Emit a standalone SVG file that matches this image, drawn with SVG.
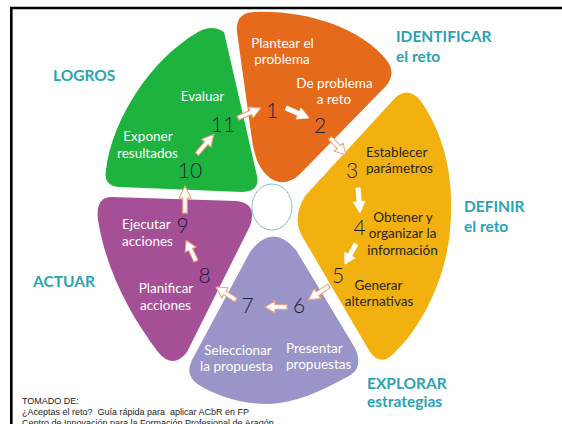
<svg xmlns="http://www.w3.org/2000/svg" width="562" height="424" viewBox="0 0 562 424">
<style>
.lbl{font-family:Lato,"Open Sans","Liberation Sans",sans-serif;font-size:13.5px;fill:#ffffff}
.dk{fill:#262626}
.num{font-family:Lato,"Open Sans","Liberation Sans",sans-serif;font-size:21px;font-weight:300;fill:#1c1c35}
.hd{font-family:Lato,"Open Sans","Liberation Sans",sans-serif;font-size:15.5px;font-weight:bold;fill:#2aa3b3}
.foot{font-family:"Liberation Sans",Arial,sans-serif;font-size:9px;fill:#222}
.arr{fill:#ffffff;stroke:#f2a07c;stroke-width:1;stroke-linejoin:round}
.arrw{fill:#ffffff;stroke:#ffffff;stroke-width:0.6;stroke-linejoin:round}
</style>
<defs>
<path id="ar" d="M0,-2.2 L11,-2.2 L11,-6 L20,0 L11,6 L11,2.2 L0,2.2 Z"/>
</defs>
<rect width="562" height="424" fill="#ffffff"/>
<line x1="10" y1="8" x2="562" y2="8" stroke="#000" stroke-width="2.6"/>
<line x1="11.3" y1="7" x2="11.3" y2="424" stroke="#000" stroke-width="2.6"/>

<g id="logros">
<path d="M224,32 L257,176 Q260,192 242,192 L120,187 Q103,186 106,170 C112,120 150,60 198,32 Q212,24 224,32 Z" fill="#1db33e"/>
<text class="lbl" x="202.5" y="101" text-anchor="middle">Evaluar</text>
<text class="lbl" x="148" y="141" text-anchor="middle">Exponer</text>
<text class="lbl" x="147.5" y="158" text-anchor="middle">resultados</text>
<text class="num" x="223" y="132" text-anchor="middle">11</text>
<text class="num" x="190" y="178" text-anchor="middle">10</text>
</g>

<g id="identificar">
<path d="M237,32 Q235,12 256,12 C300,10 360,25 388,62 Q396,74 386,86 L300,174 Q285,188 270,178 Q256,168 252,140 L237,32 Z" fill="#e56a1b"/>
<text class="lbl" x="282.5" y="48" text-anchor="middle">Plantear el</text>
<text class="lbl" x="282" y="64" text-anchor="middle">problema</text>
<text class="lbl" x="334.5" y="88" text-anchor="middle">De problema</text>
<text class="lbl" x="334" y="104" text-anchor="middle">a reto</text>
<text class="num" x="272" y="118" text-anchor="middle">1</text>
<text class="num" x="320" y="133" text-anchor="middle">2</text>
</g>

<g id="definir">
<path d="M395,98 Q408,86 420,100 C445,135 455,180 450,230 C446,280 420,330 392,355 Q380,366 370,352 L302,236 Q292,218 305,196 L395,98 Z" fill="#f2b10f"/>
<text class="lbl dk" x="366" y="157">Establecer</text>
<text class="lbl dk" x="366" y="173">parámetros</text>
<text class="lbl dk" x="403" y="222" text-anchor="middle">Obtener y</text>
<text class="lbl dk" x="402.5" y="238" text-anchor="middle">organizar la</text>
<text class="lbl dk" x="402.5" y="255" text-anchor="middle">información</text>
<text class="lbl dk" x="378.5" y="290" text-anchor="middle">Generar</text>
<text class="lbl dk" x="379" y="306" text-anchor="middle">alternativas</text>
<text class="num" x="352" y="178" text-anchor="middle">3</text>
<text class="num" x="359.5" y="235" text-anchor="middle">4</text>
<text class="num" x="338" y="283" text-anchor="middle">5</text>
</g>

<g id="explorar">
<path d="M250,252 Q272,222 296,250 L355,348 Q365,370 345,378 C320,392 295,403 268,404 C240,404 215,395 199,385 Q184,376 192,360 L250,252 Z" fill="#9a95c8"/>
<text class="lbl" x="238" y="354.5" text-anchor="middle">Seleccionar</text>
<text class="lbl" x="236.5" y="370.5" text-anchor="middle">la propuesta</text>
<text class="lbl" x="286" y="352.5">Presentar</text>
<text class="lbl" x="286" y="369">propuestas</text>
<text class="num" x="299" y="313" text-anchor="middle">6</text>
<text class="num" x="247.5" y="313" text-anchor="middle">7</text>
</g>

<g id="actuar">
<path d="M112,197 L236,201 Q258,203 250,226 L187,352 Q173,370 158,352 C130,315 106,270 98,220 Q95,197 112,197 Z" fill="#a54f97"/>
<text class="lbl" x="122" y="228.5">Ejecutar</text>
<text class="lbl" x="122" y="246">acciones</text>
<text class="lbl" x="166" y="292.5" text-anchor="middle">Planificar</text>
<text class="lbl" x="165.5" y="310" text-anchor="middle">acciones</text>
<text class="num" x="182.5" y="233" text-anchor="middle">9</text>
<text class="num" x="204.5" y="283" text-anchor="middle">8</text>
</g>

<g id="centro">
<ellipse cx="272" cy="207" rx="20" ry="23" fill="#ffffff" stroke="#86c0c8" stroke-width="1"/>
</g>

<g id="connectors">
<use href="#ar" class="arr" transform="translate(185,213) rotate(-90) scale(1.35,1)"/>
<use href="#ar" class="arr" transform="translate(197,154) rotate(-49.6) scale(1.3,1)"/>
<use href="#ar" class="arr" transform="translate(238,118) rotate(-23.5) scale(1.25,1)"/>
<use href="#ar" class="arrw" transform="translate(286,108) rotate(23.5) scale(1.25,1)"/>
<use href="#ar" class="arr" transform="translate(330,138) rotate(46.7) scale(1.15,1)"/>
<use href="#ar" class="arrw" transform="translate(358,188) rotate(85.4) scale(1.25,1)"/>
<use href="#ar" class="arrw" transform="translate(356,244) rotate(118.8) scale(1.15,1)"/>
<use href="#ar" class="arr" transform="translate(329,286) rotate(146.3) scale(1.25,1)"/>
<use href="#ar" class="arr" transform="translate(287,307) rotate(180) scale(1.1,1)"/>
<use href="#ar" class="arr" transform="translate(236,300) rotate(-147) scale(1.2,1)"/>
<use href="#ar" class="arr" transform="translate(196,261) rotate(-115.5) scale(1.15,1)"/>
</g>

<g id="labels">
<text class="hd" x="53" y="81">LOGROS</text>
<text class="hd" x="396" y="42">IDENTIFICAR</text>
<text class="hd" x="396" y="62">el reto</text>
<text class="hd" x="464" y="212">DEFINIR</text>
<text class="hd" x="464" y="232">el reto</text>
<text class="hd" x="33" y="287">ACTUAR</text>
<text class="hd" x="367" y="389">EXPLORAR</text>
<text class="hd" x="367" y="407">estrategias</text>
</g>

<g id="footer">
<text class="foot" x="22" y="404">TOMADO DE:</text>
<text class="foot" x="22" y="415" xml:space="preserve">¿Aceptas el reto?  Guía rápida para  aplicar ACbR en FP</text>
<text class="foot" x="22" y="425.5">Centro de Innovación para la Formación Profesional de Aragón</text>
</g>
</svg>
